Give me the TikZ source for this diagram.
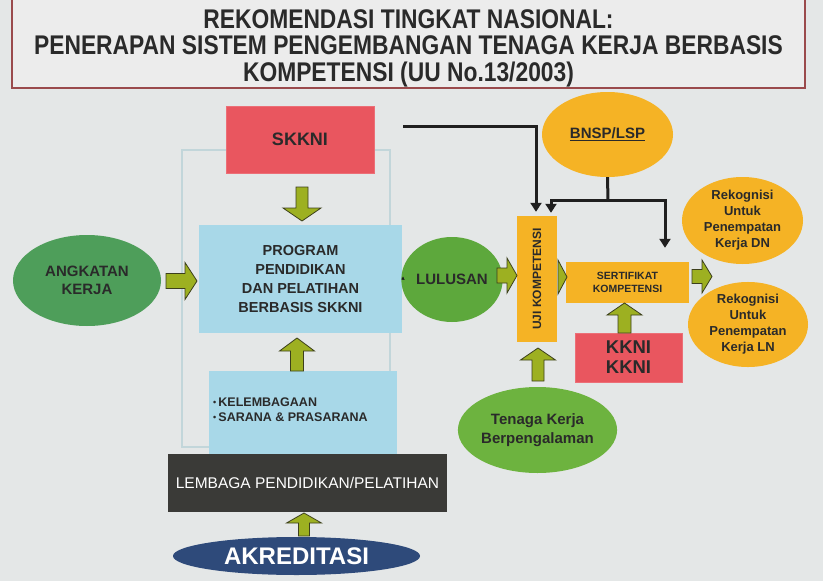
\documentclass[tikz,border=0pt]{standalone}
\usepackage{fontspec}
\setmainfont{Liberation Sans}
\newfontfamily\titlefont[FakeStretch=0.845]{Liberation Sans}
\usetikzlibrary{shapes.geometric,arrows.meta,calc}
\definecolor{bg}{HTML}{E4E7E7}
\definecolor{titlefill}{HTML}{ECECEC}
\definecolor{maroon}{HTML}{9A4A4C}
\definecolor{framec}{HTML}{C2D6DA}
\definecolor{redc}{HTML}{E9565F}
\definecolor{bluec}{HTML}{A8D8E8}
\definecolor{olive}{HTML}{9DB021}
\definecolor{oliveline}{HTML}{3C3F1C}
\definecolor{darkc}{HTML}{3A3A37}
\definecolor{navy}{HTML}{2E4A7A}
\definecolor{greenA}{HTML}{4E9E5A}
\definecolor{greenB}{HTML}{5DA83C}
\definecolor{greenC}{HTML}{6DB33F}
\definecolor{orangec}{HTML}{F5B325}
\definecolor{txt}{HTML}{2A2A2A}
\definecolor{linec}{HTML}{1F1F1F}
\newcommand\varrow[6]{%
  \pgfmathsetmacro\hb{#3+#6*sign(#2-#3)}%
  \filldraw[garrow] (#1-#4,#2) -- (#1-#4,\hb) -- (#1-#5,\hb) -- (#1,#3) -- (#1+#5,\hb) -- (#1+#4,\hb) -- (#1+#4,#2) -- cycle;}
\newcommand\harrow[6]{%
  \pgfmathsetmacro\hb{#3+#6*sign(#2-#3)}%
  \filldraw[garrow] (#2,#1-#4) -- (\hb,#1-#4) -- (\hb,#1-#5) -- (#3,#1) -- (\hb,#1+#5) -- (\hb,#1+#4) -- (#2,#1+#4) -- cycle;}
\newcommand\mybul{{\fontsize{9}{9}\selectfont\raisebox{1pt}{•}}\,}
\begin{document}
\begin{tikzpicture}[x=1pt,y=-1pt,
  box/.style={inner sep=0pt, align=center, text=txt, font=\bfseries},
  redbox/.style={box, fill=redc, draw=redc!85!white, line width=0.6pt},
  bluebox/.style={box, fill=bluec},
  orangebox/.style={box, fill=orangec},
  oval/.style={box, ellipse},
  garrow/.style={fill=olive, draw=oliveline, line width=0.8pt, line join=miter},
  conn/.style={draw=linec, line width=3pt, -{Triangle[length=9pt,width=11pt]}},
  connline/.style={draw=linec, line width=3pt}]
\useasboundingbox (0,0) rectangle (823,581);
\fill[bg] (0,0) rectangle (823,581);
% title
\draw[draw=maroon, line width=2pt, fill=titlefill] (12,-3) rectangle (805,88);
\node[inner sep=0pt, align=center, text=txt, font=\titlefont\bfseries\fontsize{27}{26.5}\selectfont] (title) at (408.5,48)
  {REKOMENDASI TINGKAT NASIONAL:\\PENERAPAN SISTEM PENGEMBANGAN TENAGA KERJA BERBASIS\\KOMPETENSI (UU No.13/2003)};
% frame
\draw[framec, line width=1.2pt] (182,150) rectangle (390,447);
% nodes
\node[redbox, minimum width=148, minimum height=67, font=\bfseries\fontsize{18}{20}\selectfont] (skkni) at (300,139.5) {SKKNI};
\node[bluebox, minimum width=203, minimum height=108, font=\bfseries\fontsize{14.5}{19.3}\selectfont] (prog) at (300.5,279)
  {PROGRAM\\PENDIDIKAN\\DAN PELATIHAN\\BERBASIS SKKNI};
\node[bluebox, minimum width=188, minimum height=84] (sarana) at (303,413) {};
\node[anchor=west, inner sep=0pt, align=left, text=txt, font=\bfseries\fontsize{12.5}{15}\selectfont] (kel) at (213,409.5)
  {\mybul KELEMBAGAAN\\\mybul SARANA \& PRASARANA};
\node[box, fill=darkc, text=white, minimum width=279, minimum height=58, font=\fontsize{15.5}{18}\selectfont] (lembaga) at (307.5,483)
  {LEMBAGA PENDIDIKAN/PELATIHAN};
\node[oval, fill=navy, text=white, minimum width=247, minimum height=38, font=\bfseries\fontsize{24}{26}\selectfont] (akred) at (296.5,556) {AKREDITASI};
\node[oval, fill=greenA, minimum width=148, minimum height=91, font=\bfseries\fontsize{15}{18}\selectfont] (angk) at (87,280.5) {ANGKATAN\\KERJA};
\node[oval, fill=greenB, minimum width=92, minimum height=85, font=\bfseries\fontsize{15}{18}\selectfont] (lul) at (452,279.5) {LULUSAN};
\node[orangebox, minimum width=40, minimum height=126] (uji) at (537,279) {};
\node[box, rotate=90, font=\bfseries\fontsize{12}{14}\selectfont] (ujitext) at (uji.center) {UJI KOMPETENSI};
\node[orangebox, minimum width=123, minimum height=41, font=\bfseries\fontsize{10.5}{13}\selectfont] (sert) at (627.5,282.5) {SERTIFIKAT\\KOMPETENSI};
\node[oval, fill=orangec, minimum width=131, minimum height=85, font=\bfseries\fontsize{15}{18}\selectfont] (bnsp) at (607.5,134.5) {\underline{BNSP/LSP}};
\node[redbox, minimum width=107, minimum height=49, font=\bfseries\fontsize{18.5}{20}\selectfont] (kkni) at (628.5,357.5) {KKNI\\KKNI};
\node[oval, fill=greenC, minimum width=133, minimum height=86, font=\bfseries\fontsize{15}{19}\selectfont] (tenaga) at (537.5,430) {Tenaga Kerja\\Berpengalaman};
\node[oval, fill=orangec, minimum width=121, minimum height=87, font=\bfseries\fontsize{13}{16}\selectfont] (dn) at (742.5,220.5) {Rekognisi\\Untuk\\Penempatan\\Kerja DN};
\node[oval, fill=orangec, minimum width=120, minimum height=85, font=\bfseries\fontsize{13}{16}\selectfont] (ln) at (748,324.5) {Rekognisi\\Untuk\\Penempatan\\Kerja LN};
% block arrows
\harrow{281}{166}{197}{7.5}{18.5}{12}
\varrow{302}{187}{221}{6}{19}{13}
\varrow{297}{371}{338}{6.5}{17.5}{13}
\varrow{304}{536}{513}{5.5}{17.5}{10}
\harrow{275.5}{497}{517}{7.5}{17.5}{10}
\filldraw[garrow] (558,260) -- (567,277) -- (558,294) -- cycle;
\varrow{538}{381}{348}{6}{17.5}{12}
\varrow{624.5}{333}{303}{6.5}{17.5}{12}
\harrow{276.5}{692}{712}{7}{16.5}{10}
\draw[line width=0.8pt, -{Latex[length=3pt,width=4pt]}, linec] (prog.east) -- (lul.west);
% connectors
\coordinate (c1) at (403,126);
\coordinate (j) at (608,200);
\draw[conn] (c1) -| ($(uji.north)+(-1,-4)$);
\draw[connline] (bnsp.south) -- (j);
\draw[conn] (j) -| ($(uji.north)+(14,-3)$);
\draw[conn] (j) -| ($(sert.north)+(37.5,-14)$);
\end{tikzpicture}
\end{document}
